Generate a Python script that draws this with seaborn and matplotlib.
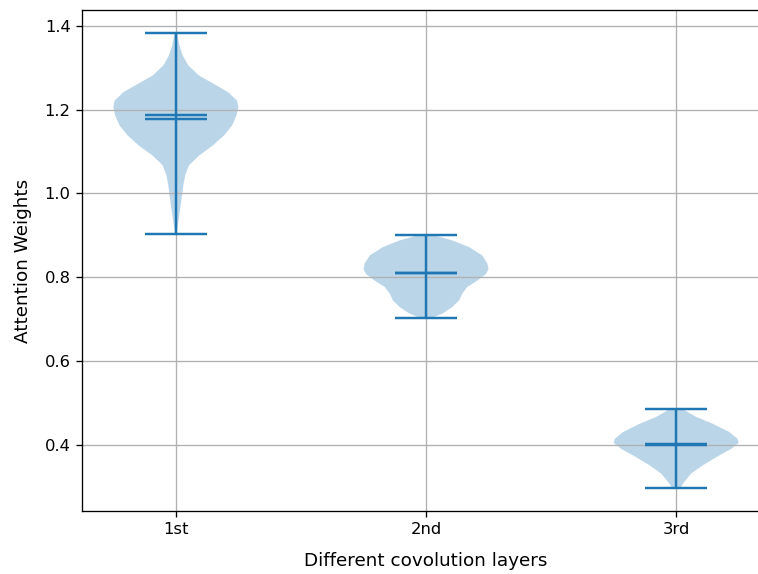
import numpy as np
import matplotlib
matplotlib.use("Agg")
import matplotlib.pyplot as plt
import seaborn as sns

# ---- data ----
layers = ["1st", "2nd", "3rd"]

coords1 = [0.902, 0.932, 0.963, 0.995, 1.019, 1.043, 1.067, 1.090, 1.114, 1.138,
           1.162, 1.186, 1.206, 1.221, 1.241, 1.261, 1.281, 1.305, 1.329, 1.352, 1.383]
dens1 = [0.01, 0.04, 0.07, 0.10, 0.12, 0.15, 0.21, 0.37, 0.59, 0.77,
         0.90, 0.97, 1.00, 0.98, 0.84, 0.61, 0.37, 0.20, 0.11, 0.06, 0.02]

coords2 = [0.704, 0.714, 0.729, 0.745, 0.761, 0.777, 0.793, 0.808, 0.820, 0.833,
           0.852, 0.872, 0.888, 0.900]
dens2 = [0.11, 0.27, 0.42, 0.53, 0.58, 0.66, 0.83, 0.96, 1.00, 0.98,
         0.90, 0.69, 0.42, 0.13]

coords3 = [0.297, 0.312, 0.332, 0.352, 0.371, 0.391, 0.405, 0.415, 0.431, 0.451,
           0.467, 0.486]
dens3 = [0.06, 0.13, 0.24, 0.43, 0.64, 0.88, 1.00, 0.98, 0.85, 0.58,
         0.32, 0.10]

means = [1.178, 0.810, 0.401]
medians = [1.187, 0.811, 0.402]
mins = [0.902, 0.704, 0.297]
maxs = [1.383, 0.900, 0.486]

all_coords = [coords1, coords2, coords3]
all_dens = [dens1, dens2, dens3]

# ---- plotting ----
plt.rcdefaults()
s = 1.18
plt.rcParams.update({
    "xtick.labelsize": 10 * s, "ytick.labelsize": 10 * s,
    "xtick.major.size": 3.5 * s, "ytick.major.size": 3.5 * s,
    "xtick.major.width": 0.8 * s, "ytick.major.width": 0.8 * s,
    "xtick.major.pad": 3.5 * s, "ytick.major.pad": 3.5 * s,
    "axes.linewidth": 0.8 * s, "grid.linewidth": 0.8 * s,
})
color = sns.color_palette("tab10")[0]

fig = plt.figure(figsize=(7.58, 5.74), dpi=100)
ax = fig.add_axes([82 / 758, 63 / 574, 688 / 758, 501 / 574])

vpstats = []
for c, d, m, md, lo, hi in zip(all_coords, all_dens, means, medians, mins, maxs):
    vpstats.append(dict(coords=np.array(c), vals=np.array(d), mean=m,
                        median=md, min=lo, max=hi))

positions = np.arange(1, len(layers) + 1)
parts = ax.violin(vpstats, positions=positions, widths=0.5,
                  showmeans=True, showmedians=True, showextrema=True)
for b in parts["bodies"]:
    b.set_facecolor(color)
    b.set_edgecolor("none")
    b.set_alpha(0.3)
for key in ["cmeans", "cmedians", "cmins", "cmaxes", "cbars"]:
    parts[key].set_color(color)
    parts[key].set_linewidth(1.5 * s)

ax.set_xticks(positions)
ax.set_xticklabels(layers)
ax.grid(True)
ax.set_xlabel("Different covolution layers", fontsize=13.2, labelpad=10.5)
ax.set_ylabel("Attention Weights", fontsize=13.2, labelpad=9)

fig.savefig("out.png", dpi=100)
